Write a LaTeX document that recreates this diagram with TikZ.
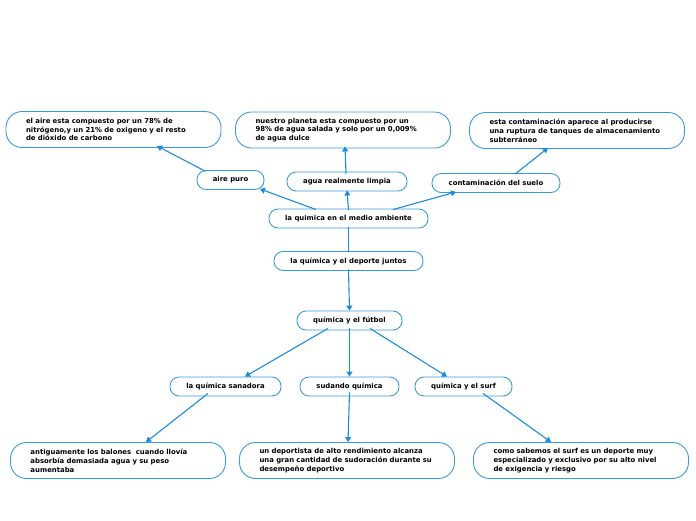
\documentclass[tikz,border=0pt]{standalone}
\usepackage{fontspec}
\setmainfont{DejaVu Sans}
\usetikzlibrary{arrows.meta}
\definecolor{bord}{HTML}{3A9AE0}
\definecolor{conn}{HTML}{1B8CDD}
\tikzset{
  small/.style={draw=bord, line width=0.9pt, rounded corners=9pt, inner sep=0pt,
    minimum height=19pt, font=\fontsize{6.9}{8}\selectfont\bfseries, text=black},
  big/.style={draw=bord, line width=0.9pt, rounded corners=16pt, inner xsep=20pt, inner ysep=0pt,
    minimum height=36pt, text width=175pt, align=left,
    font=\fontsize{6.9}{8.8}\selectfont\bfseries, text=black},
  conn/.style={draw=conn, line width=1.1pt, -{Triangle[length=5pt,width=6pt]}},
  plain/.style={draw=conn, line width=1.1pt}
}
\begin{document}
\begin{tikzpicture}[x=1pt,y=-1pt]
\useasboundingbox (0,0) rectangle (696,520);
\node[big] (b1) at (113.5,129.5) {el aire esta compuesto por un 78\% de\\nitrógeno,y un 21\% de oxigeno y el resto\\de dióxido de carbono};
\node[big] (b2) at (343,130) {nuestro planeta esta compuesto por un\\98\% de agua salada y solo por un 0,009\%\\de agua dulce};
\node[big] (b3) at (577,130.5) {esta contaminación aparece al producirse\\una ruptura de tanques de almacenamiento\\subterráneo};
\node[small, minimum width=67pt] (aire) at (230.5,180) {aire puro};
\node[small, minimum width=120pt] (agua) at (347,181.5) {agua realmente limpia};
\node[small, minimum width=128pt] (cont) at (496,183) {contaminación del suelo};
\node[small, minimum width=159pt] (medio) at (348.5,218.5) {la quimica en el medio ambiente};
\node[small, minimum width=149pt] (dep) at (348.5,261) {la química y el deporte juntos};
\node[small, minimum width=105pt] (fut) at (349.5,320.5) {química y el fútbol};
\node[small, minimum width=111pt] (san) at (225.5,386.5) {la química sanadora};
\node[small, minimum width=99pt] (sud) at (349.5,386.5) {sudando química};
\node[small, minimum width=97pt] (surf) at (463.5,386.5) {química y el surf};
\node[big] (c1) at (118,460.5) {antiguamente los balones\ \ cuando llovía\\absorbía demasiada agua y su peso\\aumentaba};
\node[big] (c2) at (347,460.5) {un deportista de alto rendimiento alcanza\\una gran cantidad de sudoración durante su\\desempeño deportivo};
\node[big] (c3) at (581,460.5) {como sabemos el surf es un deporte muy\\especializado y exclusivo por su alto nivel\\de exigencia y riesgo};

\draw[conn] ([xshift=-32.5pt,yshift=-1pt]medio.north) -- ([xshift=29.5pt,yshift=1pt]aire.south);
\draw[conn] ([yshift=-1.5pt]medio.north) -- ([yshift=1pt]agua.south);
\draw[conn] ([xshift=44.5pt,yshift=-1pt]medio.north) -- ([xshift=-40pt,yshift=1pt]cont.south);
\draw[conn] ([xshift=-25.5pt,yshift=-1pt]aire.north) -- ([xshift=43.5pt,yshift=2pt]b1.south);
\draw[conn] ([xshift=-1pt,yshift=-2pt]agua.north) -- ([xshift=2pt,yshift=2pt]b2.south);
\draw[conn] ([xshift=19pt,yshift=-1pt]cont.north) -- ([xshift=-29pt,yshift=1pt]b3.south);
\draw[plain] ([yshift=1pt]medio.south) -- ([yshift=-1pt]dep.north);
\draw[conn] ([yshift=1.5pt]dep.south) -- (fut.north);
\draw[conn] ([xshift=-21.5pt,yshift=2pt]fut.south) -- ([xshift=19.5pt]san.north);
\draw[conn] ([yshift=2pt]fut.south) -- (sud.north);
\draw[conn] ([xshift=20.5pt,yshift=2pt]fut.south) -- ([xshift=-16.5pt]surf.north);
\draw[conn] ([xshift=-17.5pt,yshift=3pt]san.south) -- ([xshift=28pt]c1.north);
\draw[conn] ([yshift=4pt]sud.south) -- ([xshift=1pt]c2.north);
\draw[conn] ([xshift=19.5pt,yshift=3pt]surf.south) -- ([xshift=-30pt]c3.north);
\end{tikzpicture}
\end{document}
